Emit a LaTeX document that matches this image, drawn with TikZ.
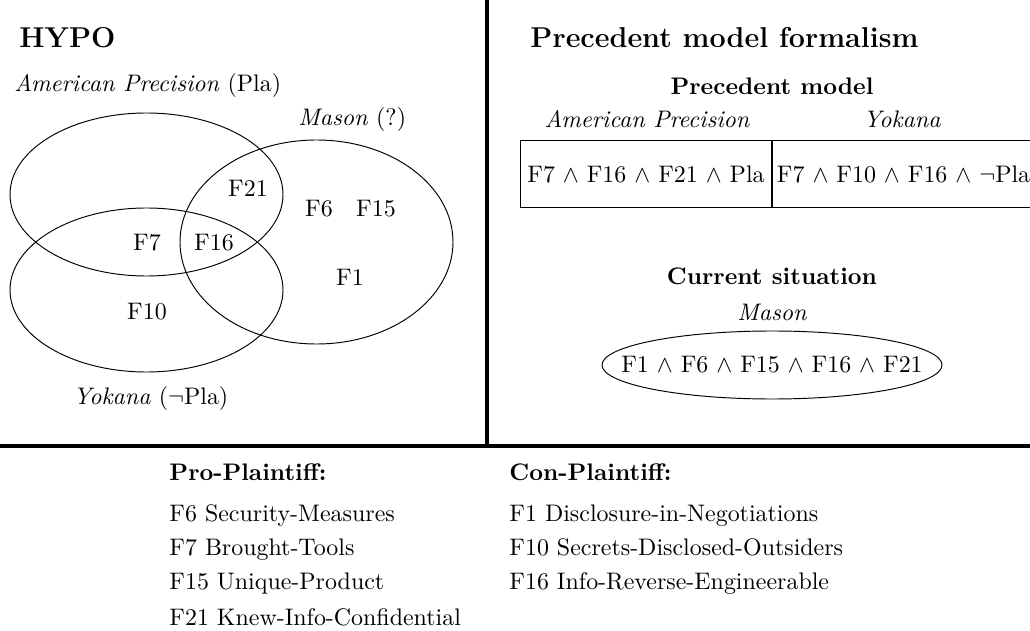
\documentclass[tikz,border=0pt]{standalone}
\usepackage{amsmath}
\usepackage{amssymb}
\usepackage{tikz}

\begin{document}
\begin{tikzpicture}[x = .418pt, y = -.418pt,
    rule/.style = {line width = 1.6pt},
    head/.style = {font = \large\bfseries, anchor = base west, inner sep = 0pt},
    sub/.style = {font = \bfseries, anchor = base, inner sep = 0pt},
    case/.style = {font = \itshape, anchor = base, inner sep = 0pt},
    tag/.style = {anchor = base west, inner sep = 0pt},
    cell/.style = {draw = black, shape = rectangle, minimum height = 28.4pt, inner sep = 1.7pt},
    item/.style = {anchor = base west, inner sep = 0pt}]
    \useasboundingbox (0, 0) rectangle (1030, 631);
    \draw[rule] (487, 0) -- (487, 446);
    \draw[rule] (0, 446) -- (1030, 446);
	\node (hypo) at (19, 48) [head] {HYPO};
	\node (aplab) at (14, 92) [tag] {\textit{American Precision} (Pla)};
	\node (malab) at (298, 126) [tag] {\textit{Mason} (?)};
	\node (yolab) at (73, 404) [tag] {\textit{Yokana} ($\neg$Pla)};
    \draw (146.5, 194.5) ellipse [x radius = 136.5, y radius = 81.5];
    \draw (146.5, 290) ellipse [x radius = 136.5, y radius = 82];
    \draw (316.5, 242) ellipse [x radius = 136.5, y radius = 102];
	\node (f21) at (248, 188) {F21};
	\node (f6) at (319, 209) {F6};
	\node (f15) at (376, 209) {F15};
	\node (f7) at (147, 243) {F7};
	\node (f16) at (214, 243) {F16};
	\node (f1) at (350, 277) {F1};
	\node (f10) at (147, 312) {F10};
	\node (pmf) at (530, 48) [head] {Precedent model formalism};
	\node (pm) at (772, 95) [sub] {Precedent model};
	\node (apname) at (647, 128) [case] {American Precision};
	\node (yoname) at (902, 128) [case] {Yokana};
	\node (apcell) at (646, 174) [cell, minimum width = 105.3pt] {F7 $\wedge$ F16 $\wedge$ F21 $\wedge$ Pla};
	\node (yocell) at (apcell.east) [cell, anchor = west] {F7 $\wedge$ F10 $\wedge$ F16 $\wedge$ $\neg$Pla};
	\node (cs) at (772, 285) [sub] {Current situation};
	\node (maname) at (772, 321) [case] {Mason};
	\node (macell) at (772, 365) {F1 $\wedge$ F6 $\wedge$ F15 $\wedge$ F16 $\wedge$ F21};
    \draw (macell.center) ellipse [x radius = 170, y radius = 34];
	\node (pro) at (169, 480) [item, font = \bfseries] {Pro-Plaintiff:};
	\node (pro6) at (169, 521) [item] {F6 Security-Measures};
	\node (pro7) at (169, 555) [item] {F7 Brought-Tools};
	\node (pro15) at (169, 589) [item] {F15 Unique-Product};
	\node (pro21) at (169, 625) [item] {F21 Knew-Info-Confidential};
	\node (con) at (509, 480) [item, font = \bfseries] {Con-Plaintiff:};
	\node (con1) at (509, 521) [item] {F1 Disclosure-in-Negotiations};
	\node (con10) at (509, 555) [item] {F10 Secrets-Disclosed-Outsiders};
	\node (con16) at (509, 589) [item] {F16 Info-Reverse-Engineerable};
    \end{tikzpicture}
\end{document}
